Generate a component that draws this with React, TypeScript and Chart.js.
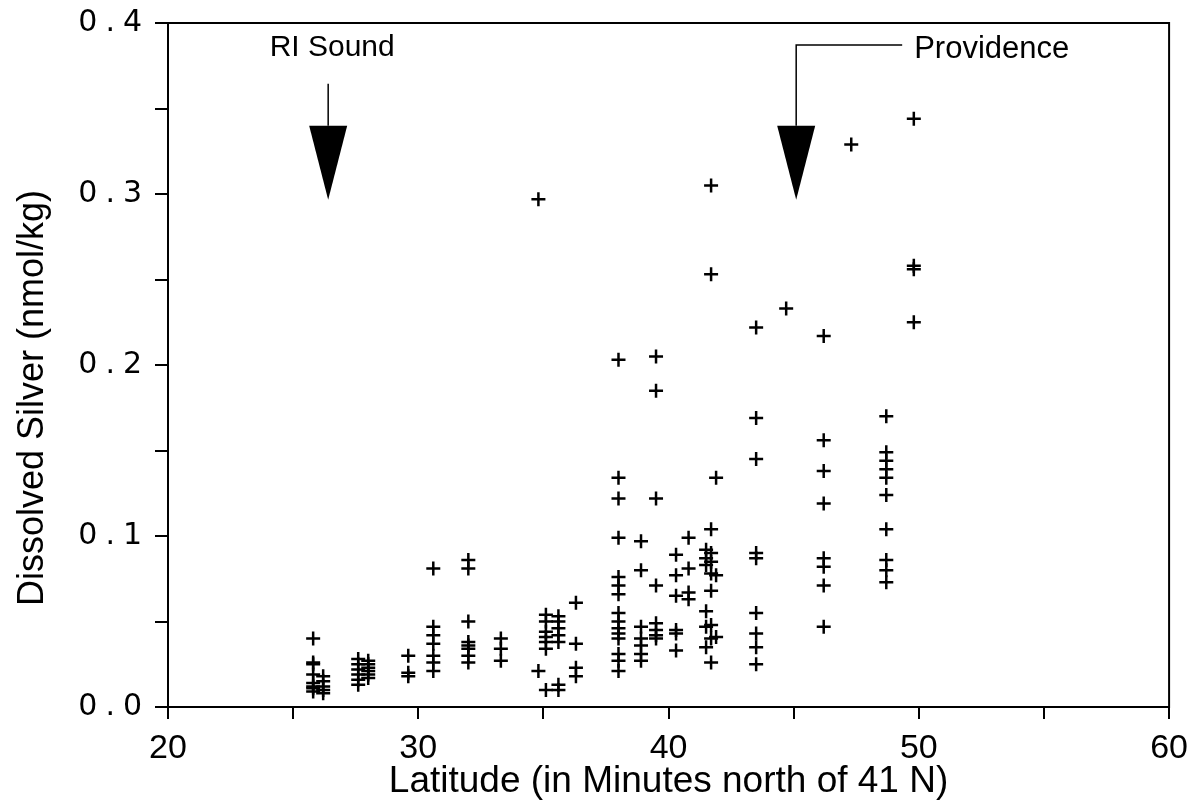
import React, { useEffect, useRef } from 'react';
import { Chart, registerables } from 'chart.js';

Chart.register(...registerables);

// Sampling stations (latitude, minutes north of 41 N)
const stationLat = [
  25.8, 26.2, 27.6, 28.0, 29.6, 30.6, 32.0, 33.3, 34.8, 34.8, 35.1, 35.6, 36.3,
  38.0, 38.9, 39.5, 40.3, 40.8, 41.5, 41.7, 41.9, 43.5, 44.7, 46.2, 47.3, 48.7, 49.8,
];

// Dissolved silver (nmol/kg) measured at each station
const silverByStation = [
  [0.040, 0.026, 0.025, 0.019, 0.014, 0.012, 0.011, 0.009],
  [0.018, 0.015, 0.012, 0.010, 0.008],
  [0.028, 0.025, 0.022, 0.019, 0.016, 0.013],
  [0.027, 0.025, 0.023, 0.021, 0.019, 0.017],
  [0.030, 0.020, 0.018],
  [0.081, 0.047, 0.042, 0.037, 0.030, 0.026, 0.021],
  [0.086, 0.081, 0.050, 0.038, 0.036, 0.034, 0.030, 0.026],
  [0.040, 0.034, 0.027],
  [0.021],
  [0.297],
  [0.054, 0.050, 0.044, 0.041, 0.038, 0.034, 0.010],
  [0.053, 0.050, 0.046, 0.042, 0.038, 0.013, 0.010],
  [0.061, 0.037, 0.023, 0.018],
  [0.203, 0.134, 0.122, 0.099, 0.076, 0.071, 0.066, 0.055, 0.050, 0.046, 0.043, 0.040, 0.031, 0.027, 0.021],
  [0.097, 0.080, 0.047, 0.040, 0.036, 0.031, 0.027],
  [0.205, 0.185, 0.122, 0.071, 0.049, 0.045, 0.042, 0.040],
  [0.089, 0.077, 0.065, 0.045, 0.043, 0.033],
  [0.099, 0.081, 0.067, 0.063],
  [0.092, 0.087, 0.083, 0.056, 0.047, 0.035],
  [0.305, 0.253, 0.104, 0.090, 0.085, 0.078, 0.068, 0.048, 0.040, 0.026],
  [0.134, 0.077, 0.041],
  [0.222, 0.169, 0.145, 0.090, 0.087, 0.055, 0.043, 0.035, 0.025],
  [0.233],
  [0.217, 0.156, 0.138, 0.119, 0.087, 0.082, 0.071, 0.047],
  [0.329],
  [0.170, 0.149, 0.144, 0.139, 0.134, 0.124, 0.104, 0.086, 0.080, 0.073],
  [0.344, 0.258, 0.256, 0.225],
];

const xTickLabels = [20, 30, 40, 50, 60];
const yTickLabels = ['0.0', '0.1', '0.2', '0.3', '0.4'];

// Arrow annotations: label, arrow latitude, arrow tip value
const arrowLabels = ['RI Sound', 'Providence'];
const arrowLat = [26.4, 45.1];
const arrowTip = [0.2966, 0.2966];

const xTitle = 'Latitude (in Minutes north of 41 N)';
const yTitle = 'Dissolved Silver (nmol/kg)';

const points = stationLat.flatMap((lat, i) =>
  silverByStation[i].map((v) => ({ x: lat, y: v }))
);

const framePlugin = {
  id: 'frame',
  beforeDraw(chart: any) {
    const s = chart.scales.y;
    if (s && !s._spaced) {
      const orig = s.drawLabels.bind(s);
      s.drawLabels = (area: any) => {
        const ctx = chart.ctx;
        ctx.save();
        (ctx as any).letterSpacing = '8px';
        orig(area);
        ctx.restore();
      };
      s._spaced = true;
    }
  },
  afterDraw(chart: any) {
    const { ctx, chartArea: a, scales } = chart;
    ctx.save();
    ctx.strokeStyle = '#000';
    ctx.lineWidth = 2;
    ctx.strokeRect(a.left, a.top, a.right - a.left, a.bottom - a.top);

    const xs = scales.x;
    const ys = scales.y;
    ctx.fillStyle = '#000';

    // y axis title
    ctx.save();
    ctx.font = '36px "Liberation Sans", Arial, sans-serif';
    ctx.textAlign = 'center';
    ctx.textBaseline = 'middle';
    ctx.translate(33, 398);
    ctx.rotate(-Math.PI / 2);
    ctx.fillText(yTitle, 0, 0);
    ctx.restore();

    ctx.lineWidth = 1.5;
    ctx.textBaseline = 'middle';

    // RI Sound
    {
      const cx = xs.getPixelForValue(arrowLat[0]);
      const tip = ys.getPixelForValue(arrowTip[0]);
      const triTop = tip - 74;
      ctx.font = '30px "Liberation Sans", Arial, sans-serif';
      ctx.textAlign = 'center';
      ctx.fillText(arrowLabels[0], cx + 4, a.top + 25);
      ctx.beginPath();
      ctx.moveTo(cx, triTop - 42);
      ctx.lineTo(cx, triTop);
      ctx.stroke();
      ctx.beginPath();
      ctx.moveTo(cx - 19, triTop);
      ctx.lineTo(cx + 19, triTop);
      ctx.lineTo(cx, tip);
      ctx.closePath();
      ctx.fill();
    }
    // Providence
    {
      const cx = xs.getPixelForValue(arrowLat[1]);
      const tip = ys.getPixelForValue(arrowTip[1]);
      const triTop = tip - 74;
      const lineY = a.top + 22;
      ctx.beginPath();
      ctx.moveTo(cx + 106, lineY);
      ctx.lineTo(cx, lineY);
      ctx.lineTo(cx, triTop);
      ctx.stroke();
      ctx.beginPath();
      ctx.moveTo(cx - 19, triTop);
      ctx.lineTo(cx + 19, triTop);
      ctx.lineTo(cx, tip);
      ctx.closePath();
      ctx.fill();
      ctx.font = '31px "Liberation Sans", Arial, sans-serif';
      ctx.textAlign = 'left';
      ctx.fillText(arrowLabels[1], cx + 118, a.top + 26);
    }
    ctx.restore();
  },
};

export default function App() {
  const ref = useRef<HTMLCanvasElement | null>(null);
  useEffect(() => {
    document.body.style.margin = '0';
    const canvas = ref.current;
    if (!canvas) return;
    const chart = new Chart(canvas, {
      type: 'scatter',
      data: {
        datasets: [
          {
            data: points,
            pointStyle: 'cross',
            radius: 7,
            borderWidth: 2.5,
            borderColor: '#000',
            backgroundColor: '#000',
          },
        ],
      },
      options: {
        animation: false,
        responsive: false,
        devicePixelRatio: 1,
        layout: { padding: { left: 0, right: 25, top: 22, bottom: 0 } },
        plugins: { legend: { display: false }, tooltip: { enabled: false } },
        scales: {
          x: {
            type: 'linear',
            min: 20,
            max: 60,
            afterFit: (s: any) => {
              s.height = 104;
            },
            afterBuildTicks: (s: any) => {
              const t = [];
              for (let v = 20; v <= 60; v += 5) t.push({ value: v });
              s.ticks = t;
            },
            ticks: {
              color: '#000',
              padding: 9,
              maxRotation: 0,
              autoSkip: false,
              font: { family: '"Liberation Sans", Arial, sans-serif', size: 34 },
              callback: (v: any) => (xTickLabels.includes(Number(v)) ? String(v) : ''),
            },
            grid: {
              drawOnChartArea: false,
              drawTicks: true,
              tickLength: 12,
              color: '#000',
              lineWidth: 2,
            },
            border: { display: true, color: '#000', width: 2 },
            title: {
              display: true,
              text: xTitle,
              color: '#000',
              padding: { top: 0, bottom: 7 },
              font: { family: '"Liberation Sans", Arial, sans-serif', size: 37 },
            },
          },
          y: {
            type: 'linear',
            min: 0,
            max: 0.4,
            afterFit: (s: any) => {
              s.width = 168;
            },
            afterBuildTicks: (s: any) => {
              const t = [];
              for (let k = 0; k <= 8; k++) t.push({ value: k * 0.05 });
              s.ticks = t;
            },
            ticks: {
              color: '#000',
              padding: 5,
              autoSkip: false,
              font: { family: '"DejaVu Sans", Verdana, sans-serif', size: 30 },
              callback: (v: any) => {
                const k = Math.round(Number(v) * 20);
                return k % 2 === 0 ? yTickLabels[k / 2] : '';
              },
            },
            grid: {
              drawOnChartArea: false,
              drawTicks: true,
              tickLength: 13,
              color: '#000',
              lineWidth: 2,
            },
            border: { display: true, color: '#000', width: 2 },
            title: { display: false },
          },
        },
      },
      plugins: [framePlugin],
    });
    chart.draw();
    return () => chart.destroy();
  }, []);
  return <canvas ref={ref} width={1197} height={811} style={{ display: 'block' }} />;
}
